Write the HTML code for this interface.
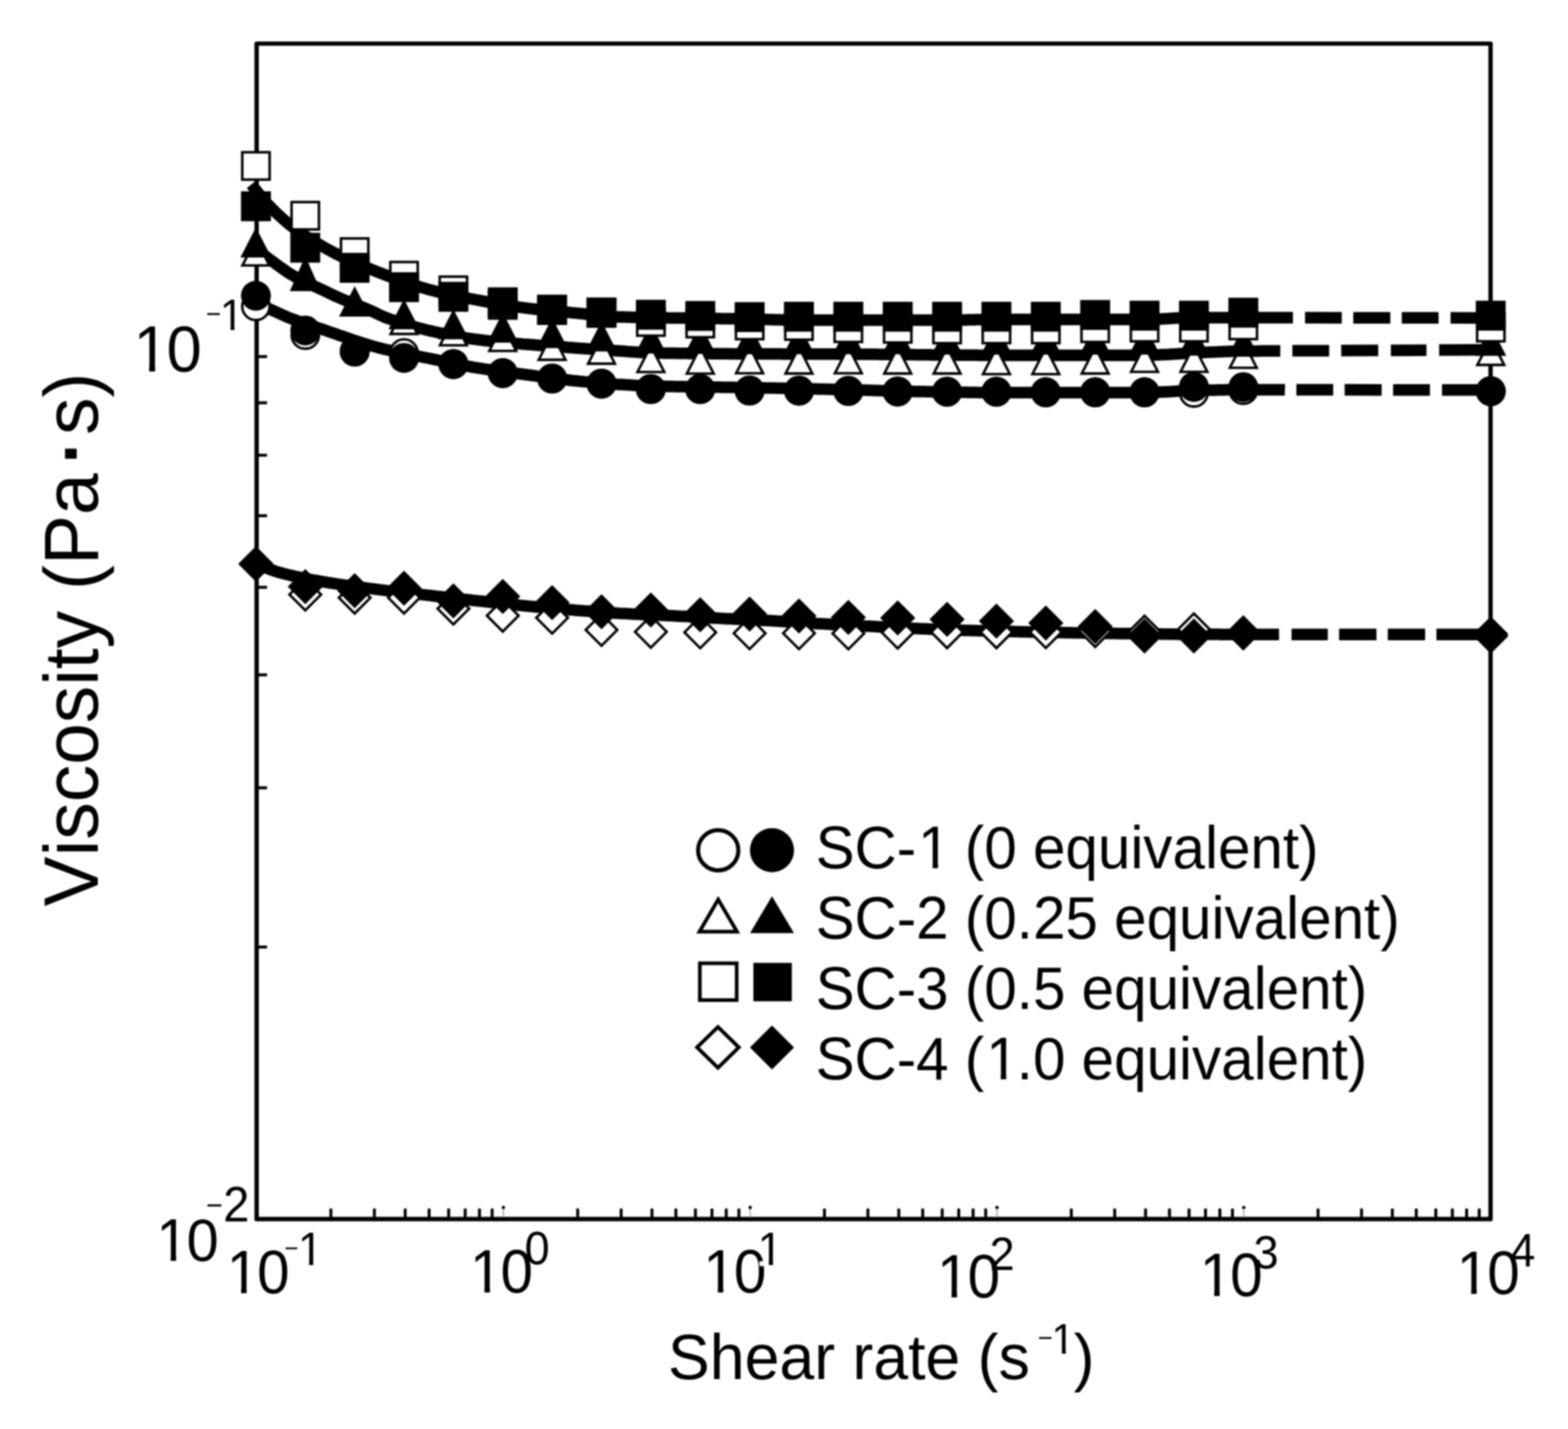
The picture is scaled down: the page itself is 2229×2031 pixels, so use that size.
<!DOCTYPE html>
<html lang="en"><head><meta charset="utf-8"><title>Viscosity vs shear rate</title>
<style>html,body{margin:0;padding:0;background:#fff}svg{display:block} text{font-family:"Liberation Sans", sans-serif;fill:#000;font-kerning:none}</style></head><body>
<svg width="2229" height="2031" viewBox="0 0 2229 2031">
<rect width="2229" height="2031" fill="#fff"/>
<defs><filter id="soft" x="0" y="0" width="100%" height="100%" filterUnits="objectBoundingBox" color-interpolation-filters="sRGB"><feGaussianBlur stdDeviation="0.8"/></filter></defs>
<g filter="url(#soft)">
<rect width="2229" height="2031" fill="#fff"/>
<rect x="364.8" y="62.0" width="1754.1" height="1670.7" fill="none" stroke="#000" stroke-width="6.2" stroke-linejoin="round"/>
<g stroke="#000" stroke-width="4.2" stroke-linecap="butt">
<line x1="364.8" y1="1346.0" x2="379.6" y2="1346.0"/>
<line x1="364.8" y1="1119.7" x2="379.6" y2="1119.7"/>
<line x1="364.8" y1="959.2" x2="379.6" y2="959.2"/>
<line x1="364.8" y1="834.7" x2="379.6" y2="834.7"/>
<line x1="364.8" y1="733.0" x2="379.6" y2="733.0"/>
<line x1="364.8" y1="647.0" x2="379.6" y2="647.0"/>
<line x1="364.8" y1="572.5" x2="379.6" y2="572.5"/>
<line x1="364.8" y1="506.8" x2="379.6" y2="506.8"/>
<line x1="364.8" y1="448.0" x2="379.6" y2="448.0"/>
<line x1="470.4" y1="1732.7" x2="470.4" y2="1717.7"/>
<line x1="532.2" y1="1732.7" x2="532.2" y2="1717.7"/>
<line x1="576.0" y1="1732.7" x2="576.0" y2="1717.7"/>
<line x1="610.0" y1="1732.7" x2="610.0" y2="1717.7"/>
<line x1="637.8" y1="1732.7" x2="637.8" y2="1717.7"/>
<line x1="661.3" y1="1732.7" x2="661.3" y2="1717.7"/>
<line x1="681.6" y1="1732.7" x2="681.6" y2="1717.7"/>
<line x1="699.6" y1="1732.7" x2="699.6" y2="1717.7"/>
<line x1="821.2" y1="1732.7" x2="821.2" y2="1717.7"/>
<line x1="883.0" y1="1732.7" x2="883.0" y2="1717.7"/>
<line x1="926.8" y1="1732.7" x2="926.8" y2="1717.7"/>
<line x1="960.8" y1="1732.7" x2="960.8" y2="1717.7"/>
<line x1="988.6" y1="1732.7" x2="988.6" y2="1717.7"/>
<line x1="1012.1" y1="1732.7" x2="1012.1" y2="1717.7"/>
<line x1="1032.4" y1="1732.7" x2="1032.4" y2="1717.7"/>
<line x1="1050.4" y1="1732.7" x2="1050.4" y2="1717.7"/>
<line x1="1172.0" y1="1732.7" x2="1172.0" y2="1717.7"/>
<line x1="1233.8" y1="1732.7" x2="1233.8" y2="1717.7"/>
<line x1="1277.7" y1="1732.7" x2="1277.7" y2="1717.7"/>
<line x1="1311.7" y1="1732.7" x2="1311.7" y2="1717.7"/>
<line x1="1339.4" y1="1732.7" x2="1339.4" y2="1717.7"/>
<line x1="1362.9" y1="1732.7" x2="1362.9" y2="1717.7"/>
<line x1="1383.3" y1="1732.7" x2="1383.3" y2="1717.7"/>
<line x1="1401.2" y1="1732.7" x2="1401.2" y2="1717.7"/>
<line x1="1522.9" y1="1732.7" x2="1522.9" y2="1717.7"/>
<line x1="1584.6" y1="1732.7" x2="1584.6" y2="1717.7"/>
<line x1="1628.5" y1="1732.7" x2="1628.5" y2="1717.7"/>
<line x1="1662.5" y1="1732.7" x2="1662.5" y2="1717.7"/>
<line x1="1690.3" y1="1732.7" x2="1690.3" y2="1717.7"/>
<line x1="1713.7" y1="1732.7" x2="1713.7" y2="1717.7"/>
<line x1="1734.1" y1="1732.7" x2="1734.1" y2="1717.7"/>
<line x1="1752.0" y1="1732.7" x2="1752.0" y2="1717.7"/>
<line x1="1873.7" y1="1732.7" x2="1873.7" y2="1717.7"/>
<line x1="1935.5" y1="1732.7" x2="1935.5" y2="1717.7"/>
<line x1="1979.3" y1="1732.7" x2="1979.3" y2="1717.7"/>
<line x1="2013.3" y1="1732.7" x2="2013.3" y2="1717.7"/>
<line x1="2041.1" y1="1732.7" x2="2041.1" y2="1717.7"/>
<line x1="2064.6" y1="1732.7" x2="2064.6" y2="1717.7"/>
<line x1="2084.9" y1="1732.7" x2="2084.9" y2="1717.7"/>
<line x1="2102.8" y1="1732.7" x2="2102.8" y2="1717.7"/>
</g>
<line x1="715.6" y1="1729.7" x2="715.6" y2="1717.7" stroke="#b0b0b0" stroke-width="2"/>
<circle cx="715.6" cy="1716.2" r="2.4" fill="#000"/>
<line x1="1066.4" y1="1729.7" x2="1066.4" y2="1717.7" stroke="#b0b0b0" stroke-width="2"/>
<circle cx="1066.4" cy="1716.2" r="2.4" fill="#000"/>
<line x1="1417.3" y1="1729.7" x2="1417.3" y2="1717.7" stroke="#b0b0b0" stroke-width="2"/>
<circle cx="1417.3" cy="1716.2" r="2.4" fill="#000"/>
<line x1="1768.1" y1="1729.7" x2="1768.1" y2="1717.7" stroke="#b0b0b0" stroke-width="2"/>
<circle cx="1768.1" cy="1716.2" r="2.4" fill="#000"/>
<g id="sc1"><path d="M363.0,430.0L366.9,431.8L370.7,433.5L374.6,435.3L378.4,437.1L382.3,438.8L386.1,440.6L390.0,442.3L393.8,444.0L397.6,445.7L401.4,447.5L405.1,449.1L408.9,450.8L412.7,452.3L416.6,453.8L420.6,455.3L424.5,456.7L428.5,458.1L432.4,459.5L436.4,460.8L440.3,462.1L444.2,463.4L448.2,464.7L452.1,466.0L456.1,467.4L460.0,468.7L463.9,470.0L467.8,471.4L471.8,472.8L475.7,474.1L479.6,475.5L483.5,476.9L487.4,478.2L491.4,479.6L495.3,480.9L499.2,482.3L503.1,483.6L507.0,484.9L511.0,486.1L514.9,487.4L518.8,488.6L522.4,489.7L526.0,490.8L529.6,491.9L533.3,492.9L536.9,493.9L540.5,494.8L544.3,495.7L548.2,496.7L552.0,497.5L555.9,498.4L559.7,499.2L563.5,500.1L567.4,500.9L571.2,501.7L575.0,502.4L578.9,503.2L582.7,504.0L586.6,504.7L590.4,505.5L594.2,506.2L598.1,507.0L601.9,507.8L605.8,508.5L609.6,509.3L613.5,510.1L617.4,510.9L621.3,511.7L625.2,512.5L629.1,513.3L633.0,514.1L636.9,515.0L640.8,515.8L644.7,516.6L648.6,517.3L652.5,518.1L656.4,518.9L660.3,519.6L664.2,520.4L668.1,521.1L672.0,521.8L675.9,522.5L679.8,523.1L683.7,523.7L687.6,524.3L691.5,524.9L695.4,525.5L699.3,526.1L703.2,526.6L707.1,527.2L711.0,527.7L714.8,528.2L718.7,528.7L722.6,529.3L726.5,529.8L730.4,530.3L734.3,530.8L738.2,531.3L742.1,531.8L746.0,532.3L749.9,532.8L753.8,533.3L757.7,533.8L761.6,534.3L765.5,534.9L769.4,535.4L773.3,535.9L777.2,536.4L781.1,536.9L785.0,537.4L788.9,537.9L792.8,538.4L796.7,538.9L800.6,539.4L804.5,539.8L808.4,540.3L812.3,540.7L816.2,541.1L820.1,541.5L823.9,541.9L827.6,542.2L831.4,542.6L835.2,542.9L839.0,543.3L842.8,543.6L846.5,543.9L850.3,544.2L854.1,544.5L857.9,544.8L861.6,545.1L865.4,545.4L869.2,545.7L873.0,545.9L876.7,546.2L880.5,546.4L884.2,546.6L887.9,546.8L891.6,547.1L895.3,547.3L899.0,547.5L902.8,547.7L906.5,547.9L910.2,548.0L913.9,548.2L917.6,548.4L921.3,548.5L925.0,548.6L928.9,548.7L932.8,548.8L936.8,548.9L940.7,549.0L944.6,549.1L948.5,549.2L952.4,549.3L956.3,549.3L960.2,549.4L964.2,549.5L968.1,549.5L972.0,549.6L975.9,549.7L979.8,549.7L983.8,549.8L987.7,549.9L991.6,549.9L995.5,550.0L999.4,550.0L1003.3,550.1L1007.2,550.1L1011.2,550.2L1015.1,550.2L1019.0,550.3L1022.9,550.3L1026.8,550.4L1030.8,550.5L1034.7,550.5L1038.6,550.6L1042.5,550.6L1046.4,550.7L1050.3,550.7L1054.2,550.8L1058.2,550.9L1062.1,550.9L1066.0,551.0L1069.9,551.1L1073.8,551.1L1077.7,551.2L1081.6,551.3L1085.4,551.3L1089.3,551.4L1093.2,551.5L1097.1,551.6L1101.0,551.6L1104.9,551.7L1108.8,551.8L1112.7,551.8L1116.6,551.9L1120.4,552.0L1124.3,552.1L1128.2,552.1L1132.1,552.2L1136.0,552.3L1140.0,552.4L1143.9,552.5L1147.9,552.6L1151.8,552.6L1155.8,552.7L1159.8,552.8L1163.7,552.9L1167.7,553.0L1171.7,553.1L1175.6,553.2L1179.6,553.3L1183.5,553.4L1187.5,553.5L1191.5,553.6L1195.4,553.7L1199.4,553.8L1203.4,553.9L1207.3,554.0L1211.3,554.1L1215.2,554.2L1219.2,554.3L1223.2,554.4L1227.1,554.5L1231.1,554.6L1235.1,554.7L1239.0,554.8L1243.0,555.0L1246.9,555.1L1250.9,555.2L1254.9,555.3L1258.8,555.4L1262.8,555.5L1266.8,555.6L1270.7,555.7L1274.7,555.8L1278.6,555.9L1282.6,556.0L1286.6,556.0L1290.5,556.1L1294.5,556.2L1298.5,556.3L1302.4,556.4L1306.4,556.5L1310.3,556.6L1314.3,556.6L1318.3,556.7L1322.2,556.8L1326.2,556.9L1330.2,556.9L1334.1,557.0L1338.1,557.1L1342.0,557.1L1346.0,557.2L1349.9,557.3L1353.8,557.3L1357.7,557.4L1361.6,557.4L1365.4,557.5L1369.3,557.6L1373.2,557.6L1377.1,557.7L1381.0,557.7L1384.9,557.8L1388.8,557.8L1392.7,557.9L1396.6,557.9L1400.4,557.9L1404.3,558.0L1408.2,558.0L1412.1,558.0L1416.0,558.0L1420.0,558.0L1423.9,558.0L1427.9,558.0L1431.8,558.0L1435.8,558.0L1439.8,558.0L1443.7,558.0L1447.7,558.0L1451.7,558.0L1455.6,558.0L1459.6,558.0L1463.5,558.0L1467.5,558.0L1471.5,558.0L1475.4,558.0L1479.4,558.0L1483.4,558.0L1487.3,558.0L1491.3,558.0L1495.2,558.0L1499.2,558.0L1503.2,558.0L1507.1,558.0L1511.1,558.0L1515.1,558.0L1519.0,558.0L1523.0,558.0L1526.9,558.0L1530.9,558.0L1534.9,558.0L1538.8,558.0L1542.8,558.0L1546.8,558.0L1550.7,558.0L1554.7,558.0L1558.6,558.0L1562.6,558.0L1566.6,558.0L1570.5,558.0L1574.5,558.0L1578.5,558.0L1582.4,558.0L1586.4,558.0L1590.3,558.0L1594.3,558.0L1598.3,558.0L1602.2,558.0L1606.2,558.0L1610.2,558.0L1614.1,558.0L1618.1,558.0L1622.0,558.0L1626.0,558.0L1629.9,558.0L1633.8,557.9L1637.7,557.8L1641.6,557.7L1645.4,557.5L1649.3,557.3L1653.2,557.1L1657.1,556.9L1661.0,556.7L1664.9,556.5L1668.8,556.2L1672.7,556.0L1676.6,555.8L1680.4,555.6L1684.3,555.4L1688.2,555.2L1692.1,555.1L1696.0,555.0L1699.9,554.9L1703.9,554.8L1707.8,554.8L1711.8,554.7L1715.7,554.6L1719.7,554.5L1723.6,554.4L1727.6,554.4L1731.5,554.3L1735.4,554.3L1739.4,554.2L1743.3,554.1L1747.3,554.1L1751.2,554.1L1755.2,554.0L1759.1,554.0L1763.1,554.0L1767.0,554.0L1771.0,554.0L1774.9,554.0L1778.9,554.0L1782.9,554.0L1786.9,554.0L1790.8,554.0L1794.8,554.0L1798.8,554.0L1802.8,554.0L1806.7,554.0L1810.7,554.0L1814.7,554.0L1818.7,554.0L1822.6,554.0L1826.6,554.1" fill="none" stroke="#000" stroke-width="16.5" stroke-linejoin="round"/>
<line x1="1842.9" y1="554.1" x2="1895.2" y2="554.1" stroke="#000" stroke-width="16.5"/>
<line x1="1911.5" y1="554.1" x2="1964.1" y2="554.2" stroke="#000" stroke-width="16.5"/>
<line x1="1980.4" y1="554.2" x2="2032.7" y2="554.2" stroke="#000" stroke-width="16.5"/>
<line x1="2049.9" y1="554.2" x2="2110.0" y2="554.3" stroke="#000" stroke-width="16.5"/>
<circle cx="363.8" cy="435.4" r="19.45" fill="#fff" stroke="#000" stroke-width="3.6"/>
<circle cx="434.0" cy="476.2" r="19.45" fill="#fff" stroke="#000" stroke-width="3.6"/>
<circle cx="504.2" cy="499.6" r="19.45" fill="#fff" stroke="#000" stroke-width="3.6"/>
<circle cx="574.3" cy="501.7" r="19.45" fill="#fff" stroke="#000" stroke-width="3.6"/>
<circle cx="644.5" cy="517.4" r="19.45" fill="#fff" stroke="#000" stroke-width="3.6"/>
<circle cx="714.7" cy="530.3" r="19.45" fill="#fff" stroke="#000" stroke-width="3.6"/>
<circle cx="784.9" cy="538.0" r="19.45" fill="#fff" stroke="#000" stroke-width="3.6"/>
<circle cx="855.1" cy="545.3" r="19.45" fill="#fff" stroke="#000" stroke-width="3.6"/>
<circle cx="925.2" cy="553.0" r="19.45" fill="#fff" stroke="#000" stroke-width="3.6"/>
<circle cx="995.4" cy="553.0" r="19.45" fill="#fff" stroke="#000" stroke-width="3.6"/>
<circle cx="1065.6" cy="555.1" r="19.45" fill="#fff" stroke="#000" stroke-width="3.6"/>
<circle cx="1135.8" cy="555.2" r="19.45" fill="#fff" stroke="#000" stroke-width="3.6"/>
<circle cx="1206.0" cy="555.6" r="19.45" fill="#fff" stroke="#000" stroke-width="3.6"/>
<circle cx="1276.1" cy="556.4" r="19.45" fill="#fff" stroke="#000" stroke-width="3.6"/>
<circle cx="1346.3" cy="556.8" r="19.45" fill="#fff" stroke="#000" stroke-width="3.6"/>
<circle cx="1416.5" cy="556.8" r="19.45" fill="#fff" stroke="#000" stroke-width="3.6"/>
<circle cx="1486.7" cy="557.6" r="19.45" fill="#fff" stroke="#000" stroke-width="3.6"/>
<circle cx="1556.9" cy="557.6" r="19.45" fill="#fff" stroke="#000" stroke-width="3.6"/>
<circle cx="1627.0" cy="557.6" r="19.45" fill="#fff" stroke="#000" stroke-width="3.6"/>
<circle cx="1697.2" cy="558.4" r="19.45" fill="#fff" stroke="#000" stroke-width="3.6"/>
<circle cx="1767.4" cy="554.4" r="19.45" fill="#fff" stroke="#000" stroke-width="3.6"/>
<circle cx="2119.2" cy="556.0" r="19.45" fill="#fff" stroke="#000" stroke-width="3.6"/>
<circle cx="363.8" cy="420.3" r="21.25" fill="#000"/>
<circle cx="434.0" cy="469.7" r="21.25" fill="#000"/>
<circle cx="504.2" cy="499.6" r="21.25" fill="#000"/>
<circle cx="574.3" cy="508.7" r="21.25" fill="#000"/>
<circle cx="644.5" cy="517.4" r="21.25" fill="#000"/>
<circle cx="714.7" cy="530.3" r="21.25" fill="#000"/>
<circle cx="784.9" cy="538.0" r="21.25" fill="#000"/>
<circle cx="855.1" cy="545.3" r="21.25" fill="#000"/>
<circle cx="925.2" cy="553.0" r="21.25" fill="#000"/>
<circle cx="995.4" cy="553.0" r="21.25" fill="#000"/>
<circle cx="1065.6" cy="555.1" r="21.25" fill="#000"/>
<circle cx="1135.8" cy="555.2" r="21.25" fill="#000"/>
<circle cx="1206.0" cy="555.6" r="21.25" fill="#000"/>
<circle cx="1276.1" cy="556.4" r="21.25" fill="#000"/>
<circle cx="1346.3" cy="556.8" r="21.25" fill="#000"/>
<circle cx="1416.5" cy="556.8" r="21.25" fill="#000"/>
<circle cx="1486.7" cy="557.6" r="21.25" fill="#000"/>
<circle cx="1556.9" cy="557.6" r="21.25" fill="#000"/>
<circle cx="1627.0" cy="557.6" r="21.25" fill="#000"/>
<circle cx="1697.2" cy="549.9" r="21.25" fill="#000"/>
<circle cx="1767.4" cy="550.2" r="21.25" fill="#000"/>
<circle cx="2119.2" cy="556.0" r="21.25" fill="#000"/></g>
<g id="sc2"><path d="M363.0,353.0L366.9,356.0L370.7,359.0L374.6,361.9L378.4,364.9L382.3,367.8L386.1,370.6L390.0,373.4L393.9,376.3L397.8,379.1L401.8,382.0L405.7,384.8L409.6,387.5L413.5,389.9L417.4,392.1L421.2,394.3L425.1,396.3L429.0,398.2L432.9,400.1L436.8,402.0L440.6,403.8L444.5,405.6L448.4,407.4L452.2,409.1L456.1,411.0L460.0,412.8L464.0,414.7L468.0,416.7L472.0,418.6L476.0,420.5L480.0,422.3L484.0,424.0L487.9,425.7L491.9,427.3L495.9,428.9L499.9,430.4L503.8,432.0L507.8,433.5L511.8,435.1L515.8,436.7L519.7,438.3L523.7,440.0L527.5,441.7L531.2,443.5L535.0,445.3L538.7,447.1L542.5,448.9L546.2,450.5L550.0,452.0L554.0,453.4L557.9,454.9L561.9,456.2L565.9,457.5L569.9,458.8L573.8,460.1L577.8,461.3L581.8,462.5L585.8,463.6L589.7,464.7L593.7,465.8L597.7,466.8L601.7,467.8L605.6,468.8L609.6,469.7L613.5,470.6L617.4,471.5L621.3,472.3L625.2,473.2L629.1,474.0L633.0,474.8L636.9,475.6L640.8,476.4L644.7,477.2L648.6,477.9L652.5,478.6L656.4,479.3L660.3,479.9L664.2,480.6L668.1,481.2L672.0,481.7L675.9,482.3L679.8,482.8L683.7,483.3L687.6,483.7L691.5,484.2L695.4,484.6L699.3,485.0L703.2,485.4L707.1,485.8L711.0,486.2L714.8,486.5L718.7,486.9L722.6,487.2L726.5,487.6L730.4,487.9L734.3,488.2L738.2,488.5L742.1,488.9L746.0,489.2L749.9,489.5L753.8,489.8L757.7,490.1L761.6,490.4L765.5,490.8L769.4,491.1L773.3,491.3L777.2,491.6L781.1,491.9L785.0,492.2L788.9,492.5L792.8,492.8L796.7,493.0L800.6,493.3L804.5,493.6L808.4,493.9L812.3,494.1L816.2,494.4L820.1,494.7L823.9,495.0L827.6,495.2L831.4,495.5L835.2,495.8L839.0,496.0L842.8,496.3L846.5,496.5L850.3,496.8L854.1,497.1L857.9,497.3L861.6,497.6L865.4,497.8L869.2,498.1L873.0,498.3L876.7,498.6L880.5,498.8L884.2,499.0L887.9,499.3L891.6,499.6L895.3,499.9L899.0,500.1L902.8,500.4L906.5,500.6L910.2,500.9L913.9,501.1L917.6,501.3L921.3,501.4L925.0,501.5L928.9,501.6L932.8,501.7L936.8,501.7L940.7,501.8L944.6,501.9L948.5,501.9L952.4,502.0L956.3,502.1L960.2,502.1L964.2,502.2L968.1,502.2L972.0,502.3L975.9,502.3L979.8,502.4L983.8,502.4L987.7,502.5L991.6,502.5L995.5,502.5L999.4,502.6L1003.3,502.6L1007.2,502.6L1011.2,502.7L1015.1,502.7L1019.0,502.7L1022.9,502.8L1026.8,502.8L1030.8,502.8L1034.7,502.8L1038.6,502.9L1042.5,502.9L1046.4,502.9L1050.3,502.9L1054.2,502.9L1058.2,503.0L1062.1,503.0L1066.0,503.0L1070.0,503.0L1074.0,503.0L1078.0,503.0L1082.0,503.1L1086.0,503.1L1090.0,503.1L1094.0,503.1L1098.0,503.1L1102.0,503.1L1106.0,503.1L1110.0,503.1L1114.0,503.2L1118.0,503.2L1122.0,503.2L1126.0,503.2L1130.0,503.2L1134.0,503.2L1138.0,503.2L1142.0,503.2L1146.0,503.2L1150.0,503.2L1154.0,503.2L1158.0,503.3L1162.0,503.3L1166.0,503.3L1170.0,503.3L1174.0,503.3L1178.0,503.3L1182.0,503.3L1186.0,503.3L1190.0,503.3L1194.0,503.4L1198.0,503.4L1202.0,503.4L1206.0,503.4L1210.0,503.4L1213.9,503.4L1217.9,503.5L1221.8,503.5L1225.8,503.5L1229.8,503.5L1233.7,503.6L1237.7,503.6L1241.7,503.6L1245.6,503.6L1249.6,503.7L1253.5,503.7L1257.5,503.7L1261.5,503.8L1265.4,503.8L1269.4,503.9L1273.4,503.9L1277.3,503.9L1281.3,504.0L1285.2,504.0L1289.2,504.0L1293.2,504.1L1297.1,504.1L1301.1,504.2L1305.1,504.2L1309.0,504.2L1313.0,504.3L1316.9,504.3L1320.9,504.3L1324.9,504.4L1328.8,504.4L1332.8,504.5L1336.8,504.5L1340.7,504.5L1344.7,504.6L1348.6,504.6L1352.6,504.6L1356.6,504.7L1360.5,504.7L1364.5,504.7L1368.5,504.7L1372.4,504.8L1376.4,504.8L1380.3,504.8L1384.3,504.8L1388.3,504.8L1392.2,504.9L1396.2,504.9L1400.2,504.9L1404.1,504.9L1408.1,504.9L1412.0,504.9L1416.0,504.9L1420.0,504.9L1423.9,504.9L1427.9,504.9L1431.8,504.9L1435.8,504.9L1439.8,504.9L1443.7,504.9L1447.7,504.9L1451.7,504.9L1455.6,504.9L1459.6,504.9L1463.5,504.9L1467.5,504.9L1471.5,504.9L1475.4,504.9L1479.4,504.9L1483.4,504.9L1487.3,504.9L1491.3,504.9L1495.2,504.9L1499.2,504.9L1503.2,504.9L1507.1,504.9L1511.1,504.9L1515.1,504.9L1519.0,504.9L1523.0,504.9L1526.9,504.9L1530.9,504.9L1534.9,504.9L1538.8,504.9L1542.8,504.9L1546.8,504.9L1550.7,504.9L1554.7,504.9L1558.6,504.9L1562.6,504.9L1566.6,504.9L1570.5,504.9L1574.5,504.9L1578.5,504.9L1582.4,504.9L1586.4,504.9L1590.3,504.9L1594.3,504.9L1598.3,504.9L1602.2,504.9L1606.2,504.9L1610.2,504.9L1614.1,504.9L1618.1,504.9L1622.0,504.9L1626.0,504.9L1629.9,504.9L1633.8,504.8L1637.7,504.7L1641.6,504.6L1645.4,504.5L1649.3,504.3L1653.2,504.1L1657.1,503.9L1661.0,503.7L1664.9,503.4L1668.8,503.2L1672.7,503.0L1676.6,502.7L1680.4,502.5L1684.3,502.3L1688.2,502.1L1692.1,501.9L1696.0,501.7L1699.9,501.5L1703.9,501.4L1707.8,501.2L1711.8,501.0L1715.7,500.8L1719.7,500.6L1723.6,500.4L1727.6,500.2L1731.5,500.1L1735.4,499.9L1739.4,499.7L1743.3,499.6L1747.3,499.4L1751.2,499.3L1755.2,499.2L1759.1,499.1L1763.1,499.0L1767.0,499.0L1770.8,499.0L1774.6,498.9L1778.4,498.9L1782.1,498.9L1785.9,498.9L1789.7,498.9L1793.5,498.8L1797.3,498.8L1801.1,498.8L1804.9,498.8L1808.6,498.8L1812.4,498.8L1816.2,498.7L1820.0,498.7" fill="none" stroke="#000" stroke-width="16.5" stroke-linejoin="round"/>
<line x1="1837.2" y1="498.6" x2="1889.5" y2="498.4" stroke="#000" stroke-width="16.5"/>
<line x1="1906.6" y1="498.3" x2="1959.2" y2="498.0" stroke="#000" stroke-width="16.5"/>
<line x1="1977.2" y1="497.9" x2="2027.8" y2="497.7" stroke="#000" stroke-width="16.5"/>
<line x1="2045.8" y1="497.6" x2="2110.0" y2="497.2" stroke="#000" stroke-width="16.5"/>
<polygon points="363.8,340.0 382.9,377.2 344.7,377.2" fill="#fff" stroke="#000" stroke-width="3.6" stroke-linejoin="miter"/>
<polygon points="504.2,411.0 523.2,448.2 485.1,448.2" fill="#000" stroke="#000" stroke-width="3.6" stroke-linejoin="miter"/>
<polygon points="574.3,437.4 593.4,474.6 555.3,474.6" fill="#fff" stroke="#000" stroke-width="3.6" stroke-linejoin="miter"/>
<polygon points="644.5,453.5 663.6,490.7 625.5,490.7" fill="#fff" stroke="#000" stroke-width="3.6" stroke-linejoin="miter"/>
<polygon points="714.7,461.5 733.8,498.7 695.6,498.7" fill="#fff" stroke="#000" stroke-width="3.6" stroke-linejoin="miter"/>
<polygon points="784.9,474.2 803.9,511.4 765.8,511.4" fill="#fff" stroke="#000" stroke-width="3.6" stroke-linejoin="miter"/>
<polygon points="855.1,479.7 874.1,516.9 836.0,516.9" fill="#fff" stroke="#000" stroke-width="3.6" stroke-linejoin="miter"/>
<polygon points="925.2,491.6 944.3,528.8 906.2,528.8" fill="#fff" stroke="#000" stroke-width="3.6" stroke-linejoin="miter"/>
<polygon points="995.4,493.8 1014.5,531.0 976.4,531.0" fill="#fff" stroke="#000" stroke-width="3.6" stroke-linejoin="miter"/>
<polygon points="1065.6,493.3 1084.7,530.5 1046.5,530.5" fill="#fff" stroke="#000" stroke-width="3.6" stroke-linejoin="miter"/>
<polygon points="1135.8,493.7 1154.8,530.9 1116.7,530.9" fill="#fff" stroke="#000" stroke-width="3.6" stroke-linejoin="miter"/>
<polygon points="1206.0,493.3 1225.0,530.5 1186.9,530.5" fill="#fff" stroke="#000" stroke-width="3.6" stroke-linejoin="miter"/>
<polygon points="1276.1,493.7 1295.2,530.9 1257.1,530.9" fill="#fff" stroke="#000" stroke-width="3.6" stroke-linejoin="miter"/>
<polygon points="1346.3,493.7 1365.4,530.9 1327.3,530.9" fill="#fff" stroke="#000" stroke-width="3.6" stroke-linejoin="miter"/>
<polygon points="1416.5,494.5 1435.6,531.7 1397.4,531.7" fill="#fff" stroke="#000" stroke-width="3.6" stroke-linejoin="miter"/>
<polygon points="1486.7,494.5 1505.7,531.7 1467.6,531.7" fill="#fff" stroke="#000" stroke-width="3.6" stroke-linejoin="miter"/>
<polygon points="1556.9,493.7 1575.9,530.9 1537.8,530.9" fill="#fff" stroke="#000" stroke-width="3.6" stroke-linejoin="miter"/>
<polygon points="1627.0,491.3 1646.1,528.5 1608.0,528.5" fill="#fff" stroke="#000" stroke-width="3.6" stroke-linejoin="miter"/>
<polygon points="1697.2,491.3 1716.3,528.5 1678.2,528.5" fill="#fff" stroke="#000" stroke-width="3.6" stroke-linejoin="miter"/>
<polygon points="1767.4,485.5 1786.5,522.7 1748.3,522.7" fill="#fff" stroke="#000" stroke-width="3.6" stroke-linejoin="miter"/>
<polygon points="2119.2,481.4 2138.3,518.6 2100.1,518.6" fill="#fff" stroke="#000" stroke-width="3.6" stroke-linejoin="miter"/>
<polygon points="363.8,322.9 385.8,365.9 341.8,365.9" fill="#000"/>
<polygon points="434.0,363.9 456.0,413.7 412.0,413.7" fill="#000"/>
<polygon points="504.2,407.0 526.2,450.0 482.2,450.0" fill="#000"/>
<polygon points="574.3,425.0 596.3,468.0 552.3,468.0" fill="#000"/>
<polygon points="644.5,439.2 666.5,482.2 622.5,482.2" fill="#000"/>
<polygon points="714.7,444.1 736.7,487.1 692.7,487.1" fill="#000"/>
<polygon points="784.9,451.7 806.9,494.7 762.9,494.7" fill="#000"/>
<polygon points="855.1,456.6 877.1,499.6 833.1,499.6" fill="#000"/>
<polygon points="925.2,459.5 947.2,502.5 903.2,502.5" fill="#000"/>
<polygon points="995.4,460.0 1017.4,503.0 973.4,503.0" fill="#000"/>
<polygon points="1065.6,460.4 1087.6,503.4 1043.6,503.4" fill="#000"/>
<polygon points="1135.8,460.4 1157.8,503.4 1113.8,503.4" fill="#000"/>
<polygon points="1206.0,460.4 1228.0,503.4 1184.0,503.4" fill="#000"/>
<polygon points="1276.1,460.4 1298.1,503.4 1254.1,503.4" fill="#000"/>
<polygon points="1346.3,461.0 1368.3,504.0 1324.3,504.0" fill="#000"/>
<polygon points="1416.5,461.0 1438.5,504.0 1394.5,504.0" fill="#000"/>
<polygon points="1486.7,461.0 1508.7,504.0 1464.7,504.0" fill="#000"/>
<polygon points="1556.9,461.0 1578.9,504.0 1534.9,504.0" fill="#000"/>
<polygon points="1627.0,461.0 1649.0,504.0 1605.0,504.0" fill="#000"/>
<polygon points="1697.2,462.5 1719.2,505.5 1675.2,505.5" fill="#000"/>
<polygon points="1767.4,464.0 1789.4,507.0 1745.4,507.0" fill="#000"/>
<polygon points="2119.2,462.8 2141.2,505.8 2097.2,505.8" fill="#000"/></g>
<g id="sc3"><path d="M357.4,262.1L360.5,266.1L363.7,270.2L366.9,274.2L370.0,278.0L373.6,282.3L377.2,286.4L380.8,290.4L384.4,294.2L388.0,297.8L391.6,301.4L395.2,304.9L398.9,308.2L402.5,311.5L406.1,314.6L409.7,317.6L413.3,320.5L417.1,323.4L420.9,326.2L424.7,328.9L428.5,331.5L432.3,334.1L436.2,336.6L440.0,339.0L443.8,341.4L447.6,343.7L451.4,346.0L455.2,348.3L458.7,350.4L462.3,352.4L465.8,354.4L469.4,356.3L472.9,358.2L476.5,360.0L480.0,361.8L484.0,363.7L487.9,365.6L491.9,367.5L495.8,369.3L499.8,371.1L503.8,372.9L507.7,374.6L511.7,376.3L515.6,378.0L519.6,379.6L523.6,381.2L527.5,382.8L531.5,384.4L535.4,386.0L539.4,387.5L543.3,389.0L547.2,390.5L551.1,392.0L555.0,393.4L558.9,394.9L562.8,396.3L566.7,397.8L570.6,399.2L574.5,400.5L578.4,401.9L582.3,403.2L586.2,404.5L590.1,405.8L594.0,407.0L597.9,408.2L601.8,409.3L605.7,410.4L609.6,411.5L613.5,412.5L617.4,413.5L621.3,414.5L625.2,415.4L629.1,416.3L633.0,417.2L636.9,418.1L640.8,419.0L644.7,419.8L648.6,420.6L652.5,421.4L656.4,422.2L660.3,423.0L664.2,423.7L668.1,424.5L672.0,425.2L675.9,426.0L679.8,426.7L683.7,427.4L687.6,428.1L691.5,428.9L695.4,429.6L699.3,430.3L703.2,430.9L707.1,431.6L711.0,432.3L714.8,432.9L718.7,433.6L722.6,434.2L726.5,434.8L730.4,435.4L734.3,436.0L738.2,436.6L742.1,437.1L746.0,437.6L749.9,438.1L753.8,438.6L757.7,439.0L761.6,439.5L765.5,439.9L769.4,440.3L773.3,440.7L777.2,441.1L781.1,441.5L785.0,441.8L788.9,442.2L792.8,442.6L796.7,442.9L800.6,443.3L804.5,443.6L808.4,444.0L812.3,444.4L816.2,444.7L820.1,445.1L823.8,445.5L827.6,445.9L831.3,446.3L835.1,446.7L838.8,447.1L842.5,447.5L846.3,447.9L850.0,448.3L853.8,448.7L857.5,449.1L861.2,449.4L865.0,449.7L868.7,449.9L872.5,450.1L876.2,450.3L880.0,450.4L883.7,450.5L887.5,450.6L891.2,450.7L895.0,450.8L898.7,450.9L902.5,451.0L906.2,451.1L910.0,451.1L913.7,451.2L917.5,451.3L921.2,451.3L925.0,451.4L928.9,451.5L932.8,451.5L936.8,451.6L940.7,451.7L944.6,451.7L948.5,451.8L952.4,451.9L956.3,451.9L960.2,452.0L964.2,452.0L968.1,452.1L972.0,452.1L975.9,452.2L979.8,452.3L983.8,452.3L987.7,452.4L991.6,452.4L995.5,452.5L999.4,452.5L1003.3,452.6L1007.2,452.6L1011.2,452.7L1015.1,452.7L1019.0,452.8L1022.9,452.8L1026.8,452.9L1030.8,452.9L1034.7,453.0L1038.6,453.1L1042.5,453.1L1046.4,453.2L1050.3,453.2L1054.2,453.3L1058.2,453.4L1062.1,453.4L1066.0,453.5L1069.9,453.6L1073.8,453.7L1077.7,453.8L1081.6,453.9L1085.4,454.0L1089.3,454.1L1093.2,454.2L1097.1,454.3L1101.0,454.4L1104.9,454.5L1108.8,454.6L1112.7,454.7L1116.6,454.8L1120.4,454.9L1124.3,454.9L1128.2,455.0L1132.1,455.0L1136.0,455.0L1140.0,455.0L1143.9,455.0L1147.9,455.0L1151.8,455.0L1155.8,455.0L1159.8,455.0L1163.7,455.0L1167.7,455.0L1171.7,455.0L1175.6,455.0L1179.6,455.0L1183.5,455.0L1187.5,455.0L1191.5,455.0L1195.4,455.0L1199.4,455.0L1203.4,455.0L1207.3,455.0L1211.3,455.0L1215.2,455.0L1219.2,455.0L1223.2,455.0L1227.1,455.0L1231.1,455.0L1235.1,455.0L1239.0,455.0L1243.0,455.0L1246.9,455.0L1250.9,455.0L1254.9,455.0L1258.8,455.0L1262.8,455.0L1266.8,455.0L1270.7,455.0L1274.7,455.0L1278.6,455.0L1282.6,455.0L1286.6,455.0L1290.5,455.0L1294.5,455.0L1298.5,455.0L1302.4,455.0L1306.4,455.0L1310.3,455.0L1314.3,455.0L1318.3,455.0L1322.2,455.0L1326.2,455.0L1330.2,455.0L1334.1,455.0L1338.1,455.0L1342.0,455.0L1346.0,455.0L1349.9,455.0L1353.8,455.0L1357.7,454.9L1361.6,454.9L1365.4,454.8L1369.3,454.7L1373.2,454.7L1377.1,454.6L1381.0,454.5L1384.9,454.4L1388.8,454.3L1392.7,454.3L1396.6,454.2L1400.4,454.1L1404.3,454.1L1408.2,454.0L1412.1,454.0L1416.0,454.0L1420.0,454.0L1423.9,454.0L1427.9,454.0L1431.8,454.0L1435.8,454.0L1439.8,454.0L1443.7,454.0L1447.7,454.0L1451.7,454.0L1455.6,454.0L1459.6,454.0L1463.5,454.0L1467.5,454.0L1471.5,454.0L1475.4,454.0L1479.4,454.0L1483.4,454.0L1487.3,454.0L1491.3,454.0L1495.2,454.0L1499.2,454.0L1503.2,454.0L1507.1,454.0L1511.1,454.0L1515.1,454.0L1519.0,454.0L1523.0,454.0L1526.9,454.0L1530.9,454.0L1534.9,454.0L1538.8,454.0L1542.8,454.0L1546.8,454.0L1550.7,454.0L1554.7,454.0L1558.6,454.0L1562.6,454.0L1566.6,454.0L1570.5,454.0L1574.5,454.0L1578.5,454.0L1582.4,454.0L1586.4,454.0L1590.3,454.0L1594.3,454.0L1598.3,454.0L1602.2,454.0L1606.2,454.0L1610.2,454.0L1614.1,454.0L1618.1,454.0L1622.0,454.0L1626.0,454.0L1629.9,454.0L1633.8,453.9L1637.7,453.8L1641.6,453.7L1645.4,453.5L1649.3,453.4L1653.2,453.2L1657.1,453.0L1661.0,452.8L1664.9,452.5L1668.8,452.3L1672.7,452.1L1676.6,452.0L1680.4,451.8L1684.3,451.7L1688.2,451.6L1692.1,451.5L1696.0,451.5L1699.9,451.5L1703.9,451.5L1707.8,451.5L1711.8,451.5L1715.7,451.5L1719.7,451.5L1723.6,451.5L1727.6,451.5L1731.5,451.5L1735.4,451.5L1739.4,451.5L1743.3,451.5L1747.3,451.5L1751.2,451.5L1755.2,451.5L1759.1,451.5L1763.1,451.5L1767.0,451.5L1770.9,451.5L1774.9,451.5L1778.8,451.5L1782.8,451.5L1786.7,451.5L1790.7,451.5L1794.6,451.5L1798.6,451.5L1802.5,451.5L1806.4,451.5L1810.4,451.5L1814.3,451.5L1818.3,451.6L1822.2,451.6L1826.2,451.6L1830.1,451.6L1834.1,451.6L1838.0,451.6" fill="none" stroke="#000" stroke-width="16.5" stroke-linejoin="round"/>
<line x1="1855.2" y1="451.6" x2="1907.4" y2="451.7" stroke="#000" stroke-width="16.5"/>
<line x1="1923.8" y1="451.7" x2="1976.4" y2="451.7" stroke="#000" stroke-width="16.5"/>
<line x1="1992.7" y1="451.8" x2="2045.0" y2="451.8" stroke="#000" stroke-width="16.5"/>
<line x1="2062.1" y1="451.8" x2="2110.0" y2="451.9" stroke="#000" stroke-width="16.5"/>
<rect x="344.4" y="216.4" width="38.9" height="38.9" fill="#fff" stroke="#000" stroke-width="3.6"/>
<rect x="414.5" y="287.2" width="38.9" height="38.9" fill="#fff" stroke="#000" stroke-width="3.6"/>
<rect x="484.7" y="338.9" width="38.9" height="38.9" fill="#fff" stroke="#000" stroke-width="3.6"/>
<rect x="554.9" y="372.4" width="38.9" height="38.9" fill="#fff" stroke="#000" stroke-width="3.6"/>
<rect x="625.1" y="393.2" width="38.9" height="38.9" fill="#fff" stroke="#000" stroke-width="3.6"/>
<rect x="695.2" y="413.8" width="38.9" height="38.9" fill="#fff" stroke="#000" stroke-width="3.6"/>
<rect x="765.4" y="420.6" width="38.9" height="38.9" fill="#fff" stroke="#000" stroke-width="3.6"/>
<rect x="835.6" y="424.6" width="38.9" height="38.9" fill="#fff" stroke="#000" stroke-width="3.6"/>
<rect x="905.8" y="438.2" width="38.9" height="38.9" fill="#fff" stroke="#000" stroke-width="3.6"/>
<rect x="976.0" y="440.4" width="38.9" height="38.9" fill="#fff" stroke="#000" stroke-width="3.6"/>
<rect x="1046.2" y="443.2" width="38.9" height="38.9" fill="#fff" stroke="#000" stroke-width="3.6"/>
<rect x="1116.3" y="443.9" width="38.9" height="38.9" fill="#fff" stroke="#000" stroke-width="3.6"/>
<rect x="1186.5" y="447.1" width="38.9" height="38.9" fill="#fff" stroke="#000" stroke-width="3.6"/>
<rect x="1256.7" y="447.9" width="38.9" height="38.9" fill="#fff" stroke="#000" stroke-width="3.6"/>
<rect x="1326.9" y="448.8" width="38.9" height="38.9" fill="#fff" stroke="#000" stroke-width="3.6"/>
<rect x="1397.0" y="448.8" width="38.9" height="38.9" fill="#fff" stroke="#000" stroke-width="3.6"/>
<rect x="1467.2" y="448.8" width="38.9" height="38.9" fill="#fff" stroke="#000" stroke-width="3.6"/>
<rect x="1537.4" y="447.1" width="38.9" height="38.9" fill="#fff" stroke="#000" stroke-width="3.6"/>
<rect x="1607.6" y="446.2" width="38.9" height="38.9" fill="#fff" stroke="#000" stroke-width="3.6"/>
<rect x="1677.8" y="446.2" width="38.9" height="38.9" fill="#fff" stroke="#000" stroke-width="3.6"/>
<rect x="1748.0" y="443.1" width="38.9" height="38.9" fill="#fff" stroke="#000" stroke-width="3.6"/>
<rect x="2099.8" y="446.2" width="38.9" height="38.9" fill="#fff" stroke="#000" stroke-width="3.6"/>
<rect x="342.6" y="271.9" width="42.5" height="42.5" fill="#000"/>
<rect x="412.7" y="330.8" width="42.5" height="42.5" fill="#000"/>
<rect x="482.9" y="359.4" width="42.5" height="42.5" fill="#000"/>
<rect x="553.1" y="386.9" width="42.5" height="42.5" fill="#000"/>
<rect x="623.3" y="400.6" width="42.5" height="42.5" fill="#000"/>
<rect x="693.5" y="408.4" width="42.5" height="42.5" fill="#000"/>
<rect x="763.6" y="419.4" width="42.5" height="42.5" fill="#000"/>
<rect x="833.8" y="423.4" width="42.5" height="42.5" fill="#000"/>
<rect x="904.0" y="426.1" width="42.5" height="42.5" fill="#000"/>
<rect x="974.2" y="427.8" width="42.5" height="42.5" fill="#000"/>
<rect x="1044.4" y="429.4" width="42.5" height="42.5" fill="#000"/>
<rect x="1114.5" y="428.9" width="42.5" height="42.5" fill="#000"/>
<rect x="1184.7" y="428.9" width="42.5" height="42.5" fill="#000"/>
<rect x="1254.9" y="428.9" width="42.5" height="42.5" fill="#000"/>
<rect x="1325.1" y="428.9" width="42.5" height="42.5" fill="#000"/>
<rect x="1395.2" y="428.9" width="42.5" height="42.5" fill="#000"/>
<rect x="1465.4" y="428.9" width="42.5" height="42.5" fill="#000"/>
<rect x="1535.6" y="426.4" width="42.5" height="42.5" fill="#000"/>
<rect x="1605.8" y="427.4" width="42.5" height="42.5" fill="#000"/>
<rect x="1676.0" y="427.4" width="42.5" height="42.5" fill="#000"/>
<rect x="1746.2" y="423.2" width="42.5" height="42.5" fill="#000"/>
<rect x="2097.9" y="427.4" width="42.5" height="42.5" fill="#000"/></g>
<g id="sc4"><path d="M363.0,801.5L366.6,802.8L370.3,804.2L373.9,805.5L377.6,806.9L381.2,808.3L384.9,809.6L388.6,810.9L392.2,812.1L395.9,813.3L399.5,814.3L403.4,815.3L407.3,816.3L411.2,817.2L415.1,818.1L418.9,819.0L422.8,819.9L426.7,820.7L430.6,821.5L434.5,822.3L438.4,823.0L442.3,823.8L446.2,824.5L450.1,825.2L453.9,825.9L457.8,826.5L461.7,827.2L465.6,827.9L469.5,828.5L473.4,829.1L477.3,829.7L481.1,830.3L485.0,830.9L488.9,831.5L492.8,832.0L496.7,832.6L500.6,833.1L504.4,833.6L508.3,834.2L512.2,834.7L516.1,835.2L520.0,835.7L523.9,836.2L527.8,836.6L531.6,837.1L535.5,837.6L539.4,838.1L543.4,838.6L547.3,839.1L551.3,839.6L555.3,840.0L559.2,840.5L563.2,840.9L567.2,841.4L571.1,841.9L575.1,842.3L579.1,842.7L583.0,843.2L587.0,843.6L591.0,844.1L594.9,844.5L598.9,845.0L602.9,845.4L606.8,845.9L610.8,846.3L614.6,846.7L618.4,847.2L622.2,847.6L626.1,848.0L629.9,848.5L633.7,848.9L637.5,849.3L641.3,849.8L645.1,850.2L649.0,850.6L652.8,851.0L656.6,851.5L660.4,851.9L664.2,852.3L668.0,852.7L671.9,853.2L675.7,853.6L679.5,854.0L683.4,854.4L687.3,854.8L691.2,855.3L695.1,855.7L698.9,856.1L702.8,856.6L706.7,857.0L710.6,857.4L714.5,857.8L718.4,858.2L722.3,858.7L726.2,859.1L730.1,859.5L733.9,859.9L737.8,860.3L741.7,860.6L745.6,861.0L749.5,861.4L753.4,861.8L757.3,862.1L761.1,862.5L765.0,862.8L768.9,863.2L772.8,863.5L776.7,863.9L780.6,864.2L784.5,864.6L788.3,864.9L792.2,865.2L796.1,865.5L800.0,865.9L803.9,866.2L807.8,866.5L811.6,866.8L815.5,867.1L819.4,867.4L823.2,867.7L827.0,868.0L830.8,868.3L834.6,868.5L838.4,868.8L842.2,869.1L846.0,869.4L849.8,869.7L853.6,869.9L857.5,870.2L861.3,870.5L865.1,870.7L868.9,871.0L872.7,871.2L876.5,871.4L880.3,871.7L884.1,871.9L887.9,872.1L891.7,872.3L895.6,872.5L899.4,872.7L903.3,872.9L907.1,873.1L911.0,873.3L914.8,873.4L918.7,873.6L922.5,873.8L926.4,873.9L930.2,874.1L934.1,874.3L937.9,874.4L941.8,874.6L945.6,874.8L949.5,875.0L953.3,875.1L957.2,875.3L961.0,875.5L964.8,875.7L968.7,875.9L972.5,876.1L976.4,876.3L980.2,876.5L984.1,876.7L987.9,876.9L991.8,877.1L995.6,877.3L999.4,877.6L1003.3,877.8L1007.1,878.0L1011.0,878.2L1014.8,878.4L1018.7,878.6L1022.5,878.8L1026.4,879.0L1030.2,879.2L1034.1,879.4L1038.1,879.6L1042.0,879.8L1045.9,879.9L1049.8,880.1L1053.8,880.3L1057.7,880.5L1061.6,880.6L1065.6,880.8L1069.5,881.0L1073.4,881.2L1077.3,881.4L1081.3,881.5L1085.2,881.7L1089.1,881.9L1093.0,882.1L1097.0,882.3L1100.9,882.5L1104.8,882.7L1108.8,882.9L1112.7,883.2L1116.7,883.4L1120.6,883.7L1124.5,883.9L1128.5,884.2L1132.4,884.4L1136.4,884.7L1140.3,884.9L1144.3,885.2L1148.2,885.4L1152.1,885.7L1156.1,885.9L1160.0,886.2L1164.0,886.4L1167.9,886.6L1171.9,886.8L1175.9,887.0L1179.9,887.2L1183.8,887.4L1187.8,887.7L1191.8,887.9L1195.8,888.1L1199.8,888.3L1203.8,888.5L1207.7,888.7L1211.7,888.9L1215.7,889.1L1219.7,889.3L1223.7,889.5L1227.7,889.7L1231.6,889.9L1235.6,890.1L1239.6,890.3L1243.6,890.5L1247.6,890.7L1251.5,890.9L1255.5,891.1L1259.5,891.3L1263.5,891.5L1267.5,891.7L1271.5,891.9L1275.5,892.1L1279.4,892.3L1283.4,892.5L1287.4,892.6L1291.4,892.8L1295.4,893.0L1299.4,893.2L1303.3,893.3L1307.3,893.5L1311.3,893.7L1315.3,893.8L1319.3,894.0L1323.2,894.2L1327.2,894.3L1331.2,894.5L1335.2,894.6L1339.2,894.8L1343.2,894.9L1347.2,895.1L1351.1,895.2L1355.1,895.3L1359.1,895.5L1363.1,895.6L1367.1,895.7L1371.0,895.9L1375.0,896.0L1379.0,896.1L1383.0,896.2L1387.0,896.3L1391.0,896.4L1394.9,896.5L1398.9,896.6L1402.9,896.7L1406.9,896.8L1410.9,896.9L1414.9,897.0L1418.8,897.1L1422.8,897.2L1426.8,897.3L1430.8,897.4L1434.8,897.5L1438.8,897.6L1442.7,897.7L1446.7,897.8L1450.7,897.9L1454.7,898.0L1458.7,898.1L1462.6,898.2L1466.6,898.2L1470.6,898.3L1474.6,898.4L1478.6,898.5L1482.6,898.6L1486.5,898.7L1490.5,898.7L1494.5,898.8L1498.5,898.9L1502.5,899.0L1506.4,899.0L1510.4,899.1L1514.4,899.2L1518.4,899.3L1522.4,899.3L1526.4,899.4L1530.3,899.5L1534.3,899.5L1538.3,899.6L1542.3,899.7L1546.3,899.7L1550.2,899.8L1554.2,899.9L1558.2,899.9L1562.2,900.0L1566.2,900.0L1570.2,900.1L1574.1,900.2L1578.1,900.2L1582.1,900.3L1586.1,900.3L1590.1,900.4L1594.1,900.4L1598.0,900.5L1602.0,900.5L1606.0,900.6L1609.9,900.6L1613.8,900.7L1617.7,900.7L1621.7,900.8L1625.6,900.8L1629.5,900.9L1633.4,900.9L1637.3,901.0L1641.2,901.0L1645.1,901.1L1649.0,901.1L1653.0,901.2L1656.9,901.2L1660.8,901.2L1664.7,901.3L1668.6,901.3L1672.5,901.4L1676.4,901.4L1680.3,901.4L1684.3,901.4L1688.2,901.5L1692.1,901.5L1696.0,901.5L1699.9,901.5L1703.9,901.5L1707.8,901.6L1711.8,901.6L1715.7,901.6L1719.7,901.6L1723.6,901.6L1727.6,901.6L1731.5,901.6L1735.4,901.7L1739.4,901.7L1743.3,901.7L1747.3,901.7L1751.2,901.7L1755.2,901.7L1759.1,901.7L1763.1,901.7L1767.0,901.7L1770.9,901.7L1774.9,901.7L1778.8,901.7L1782.8,901.7L1786.7,901.7L1790.6,901.7L1794.6,901.7L1798.5,901.7L1802.4,901.7L1806.4,901.7L1810.3,901.7L1814.3,901.7L1818.2,901.7" fill="none" stroke="#000" stroke-width="16.5" stroke-linejoin="round"/>
<line x1="1836.0" y1="901.7" x2="1887.5" y2="901.7" stroke="#000" stroke-width="16.5"/>
<line x1="1903.6" y1="901.7" x2="1956.7" y2="901.7" stroke="#000" stroke-width="16.5"/>
<line x1="1972.8" y1="901.7" x2="2025.9" y2="901.7" stroke="#000" stroke-width="16.5"/>
<line x1="2042.0" y1="901.7" x2="2110.0" y2="901.7" stroke="#000" stroke-width="16.5"/>
<polygon points="363.8,779.0 386.3,801.5 363.8,824.0 341.3,801.5" fill="#fff" stroke="#000" stroke-width="3.6" stroke-linejoin="miter"/>
<polygon points="434.0,822.5 456.4,845.0 434.0,867.5 411.5,845.0" fill="#fff" stroke="#000" stroke-width="3.6" stroke-linejoin="miter"/>
<polygon points="504.2,827.0 526.6,849.5 504.2,872.0 481.7,849.5" fill="#fff" stroke="#000" stroke-width="3.6" stroke-linejoin="miter"/>
<polygon points="574.3,827.0 596.8,849.5 574.3,872.0 551.9,849.5" fill="#fff" stroke="#000" stroke-width="3.6" stroke-linejoin="miter"/>
<polygon points="644.5,842.5 667.0,865.0 644.5,887.5 622.1,865.0" fill="#fff" stroke="#000" stroke-width="3.6" stroke-linejoin="miter"/>
<polygon points="714.7,852.6 737.2,875.1 714.7,897.6 692.2,875.1" fill="#fff" stroke="#000" stroke-width="3.6" stroke-linejoin="miter"/>
<polygon points="784.9,855.4 807.3,877.9 784.9,900.4 762.4,877.9" fill="#fff" stroke="#000" stroke-width="3.6" stroke-linejoin="miter"/>
<polygon points="855.1,872.8 877.5,895.3 855.1,917.8 832.6,895.3" fill="#fff" stroke="#000" stroke-width="3.6" stroke-linejoin="miter"/>
<polygon points="925.2,875.5 947.7,898.0 925.2,920.5 902.8,898.0" fill="#fff" stroke="#000" stroke-width="3.6" stroke-linejoin="miter"/>
<polygon points="995.4,876.2 1017.9,898.7 995.4,921.2 973.0,898.7" fill="#fff" stroke="#000" stroke-width="3.6" stroke-linejoin="miter"/>
<polygon points="1065.6,877.5 1088.1,900.0 1065.6,922.5 1043.1,900.0" fill="#fff" stroke="#000" stroke-width="3.6" stroke-linejoin="miter"/>
<polygon points="1135.8,877.5 1158.2,900.0 1135.8,922.5 1113.3,900.0" fill="#fff" stroke="#000" stroke-width="3.6" stroke-linejoin="miter"/>
<polygon points="1206.0,877.7 1228.4,900.2 1206.0,922.7 1183.5,900.2" fill="#fff" stroke="#000" stroke-width="3.6" stroke-linejoin="miter"/>
<polygon points="1276.1,876.6 1298.6,899.1 1276.1,921.6 1253.7,899.1" fill="#fff" stroke="#000" stroke-width="3.6" stroke-linejoin="miter"/>
<polygon points="1346.3,876.1 1368.8,898.6 1346.3,921.1 1323.9,898.6" fill="#fff" stroke="#000" stroke-width="3.6" stroke-linejoin="miter"/>
<polygon points="1416.5,876.1 1439.0,898.6 1416.5,921.1 1394.0,898.6" fill="#fff" stroke="#000" stroke-width="3.6" stroke-linejoin="miter"/>
<polygon points="1486.7,876.0 1509.1,898.5 1486.7,921.0 1464.2,898.5" fill="#fff" stroke="#000" stroke-width="3.6" stroke-linejoin="miter"/>
<polygon points="1556.9,874.5 1579.3,897.0 1556.9,919.5 1534.4,897.0" fill="#fff" stroke="#000" stroke-width="3.6" stroke-linejoin="miter"/>
<polygon points="1627.0,875.3 1649.5,897.8 1627.0,920.3 1604.6,897.8" fill="#fff" stroke="#000" stroke-width="3.6" stroke-linejoin="miter"/>
<polygon points="1697.2,872.1 1719.7,894.6 1697.2,917.1 1674.8,894.6" fill="#fff" stroke="#000" stroke-width="3.6" stroke-linejoin="miter"/>
<polygon points="1767.4,877.1 1789.9,899.6 1767.4,922.1 1744.9,899.6" fill="#fff" stroke="#000" stroke-width="3.6" stroke-linejoin="miter"/>
<polygon points="2119.2,881.4 2141.7,903.9 2119.2,926.4 2096.7,903.9" fill="#fff" stroke="#000" stroke-width="3.6" stroke-linejoin="miter"/>
<polygon points="363.8,776.5 388.8,801.5 363.8,826.5 338.8,801.5" fill="#000"/>
<polygon points="434.0,808.8 459.0,833.8 434.0,858.8 409.0,833.8" fill="#000"/>
<polygon points="504.2,814.4 529.2,839.4 504.2,864.4 479.2,839.4" fill="#000"/>
<polygon points="574.3,811.0 599.3,836.0 574.3,861.0 549.3,836.0" fill="#000"/>
<polygon points="644.5,829.0 669.5,854.0 644.5,879.0 619.5,854.0" fill="#000"/>
<polygon points="714.7,822.7 739.7,847.7 714.7,872.7 689.7,847.7" fill="#000"/>
<polygon points="784.9,831.4 809.9,856.4 784.9,881.4 759.9,856.4" fill="#000"/>
<polygon points="855.1,844.4 880.1,869.4 855.1,894.4 830.1,869.4" fill="#000"/>
<polygon points="925.2,842.1 950.2,867.1 925.2,892.1 900.2,867.1" fill="#000"/>
<polygon points="995.4,848.8 1020.4,873.8 995.4,898.8 970.4,873.8" fill="#000"/>
<polygon points="1065.6,847.7 1090.6,872.7 1065.6,897.7 1040.6,872.7" fill="#000"/>
<polygon points="1135.8,850.4 1160.8,875.4 1135.8,900.4 1110.8,875.4" fill="#000"/>
<polygon points="1206.0,852.6 1231.0,877.6 1206.0,902.6 1181.0,877.6" fill="#000"/>
<polygon points="1276.1,853.3 1301.1,878.3 1276.1,903.3 1251.1,878.3" fill="#000"/>
<polygon points="1346.3,855.3 1371.3,880.3 1346.3,905.3 1321.3,880.3" fill="#000"/>
<polygon points="1416.5,857.8 1441.5,882.8 1416.5,907.8 1391.5,882.8" fill="#000"/>
<polygon points="1486.7,860.4 1511.7,885.4 1486.7,910.4 1461.7,885.4" fill="#000"/>
<polygon points="1556.9,865.4 1581.9,890.4 1556.9,915.4 1531.9,890.4" fill="#000"/>
<polygon points="1627.0,878.9 1652.0,903.9 1627.0,928.9 1602.0,903.9" fill="#000"/>
<polygon points="1697.2,878.9 1722.2,903.9 1697.2,928.9 1672.2,903.9" fill="#000"/>
<polygon points="1767.4,874.6 1792.4,899.6 1767.4,924.6 1742.4,899.6" fill="#000"/>
<polygon points="2119.2,876.0 2144.2,901.0 2119.2,926.0 2094.2,901.0" fill="#000"/></g>
<g id="legend">
<circle cx="1021.0" cy="1208.4" r="28.60" fill="#fff" stroke="#000" stroke-width="5.8"/>
<circle cx="1097.4" cy="1208.4" r="31.35" fill="#000"/>
<polygon points="1021.0,1278.5 1047.7,1324.2 994.3,1324.2" fill="#fff" stroke="#000" stroke-width="5.2" stroke-linejoin="miter"/>
<polygon points="1097.4,1273.7 1128.7,1326.2 1066.2,1326.2" fill="#000"/>
<rect x="994.9" y="1369.1" width="52.3" height="52.3" fill="#fff" stroke="#000" stroke-width="5.2"/>
<rect x="1071.0" y="1368.5" width="54.6" height="54.6" fill="#000"/>
<polygon points="1020.6,1459.6 1050.3,1488.6 1020.6,1517.6 990.9,1488.6" fill="#fff" stroke="#000" stroke-width="5.2" stroke-linejoin="miter"/>
<polygon points="1097.4,1457.5 1128.8,1488.8 1097.4,1520.1 1066.1,1488.8" fill="#000"/>
</g>
<clipPath id="c1" clipPathUnits="userSpaceOnUse"><path clip-rule="evenodd" d="M-4000,-4000H4000V4000H-4000ZM149.00,-7.14H166.35V1.66H149.00ZM174.11,-7.14H190.50V1.66H174.11Z"/></clipPath><text xml:space="preserve" transform="translate(1159.40,1234.10) scale(1,1.0300)" clip-path="url(#c1)"><tspan x="0.00" y="0.00" font-size="83">SC-</tspan><tspan x="145.68" y="0.00" font-size="83">1</tspan><tspan x="189.10" y="0.00" font-size="83"> (0 equivalent)</tspan></text>
<text xml:space="preserve" transform="translate(1159.40,1333.80) scale(1,1.0300)"><tspan x="0.00" y="0.00" font-size="83">SC-2 (0.25 equivalent)</tspan></text>
<text xml:space="preserve" transform="translate(1159.40,1434.10) scale(1,1.0300)"><tspan x="0.00" y="0.00" font-size="83">SC-3 (0.5 equivalent)</tspan></text>
<clipPath id="c2" clipPathUnits="userSpaceOnUse"><path clip-rule="evenodd" d="M-4000,-4000H4000V4000H-4000ZM245.86,-7.14H263.21V1.66H245.86ZM270.97,-7.14H287.36V1.66H270.97Z"/></clipPath><text xml:space="preserve" transform="translate(1159.40,1533.50) scale(1,1.0300)" clip-path="url(#c2)"><tspan x="0.00" y="0.00" font-size="83">SC-4 (</tspan><tspan x="242.54" y="0.00" font-size="83">1</tspan><tspan x="285.96" y="0.00" font-size="83">.0 equivalent)</tspan></text>
<clipPath id="c3" clipPathUnits="userSpaceOnUse"><path clip-rule="evenodd" d="M-4000,-4000H4000V4000H-4000ZM6.06,-7.14H23.41V1.66H6.06ZM31.17,-7.14H47.56V1.66H31.17ZM106.61,-43.29H119.99V-36.51H106.61ZM125.97,-43.29H138.61V-36.51H125.97Z"/></clipPath><text xml:space="preserve" transform="translate(319.40,1837.50) scale(1,1.0400)" clip-path="url(#c3)"><tspan x="2.74" y="0.00" font-size="83">1</tspan><tspan x="46.16" y="0.00" font-size="83">0</tspan><tspan x="84.91" y="-49.30" font-size="34.2">−</tspan><tspan x="104.05" y="-37.79" font-size="64">1</tspan></text>
<clipPath id="c4" clipPathUnits="userSpaceOnUse"><path clip-rule="evenodd" d="M-4000,-4000H4000V4000H-4000ZM6.06,-7.14H23.41V1.66H6.06ZM31.17,-7.14H47.56V1.66H31.17Z"/></clipPath><text xml:space="preserve" transform="translate(665.30,1836.90) scale(1,1.0400)" clip-path="url(#c4)"><tspan x="2.74" y="0.00" font-size="83">1</tspan><tspan x="46.16" y="0.00" font-size="83">0</tspan><tspan x="80.50" y="-38.17" font-size="64">0</tspan></text>
<clipPath id="c5" clipPathUnits="userSpaceOnUse"><path clip-rule="evenodd" d="M-4000,-4000H4000V4000H-4000ZM6.06,-7.14H23.41V1.66H6.06ZM31.17,-7.14H47.56V1.66H31.17ZM82.51,-42.72H95.89V-35.93H82.51ZM101.87,-42.72H114.51V-35.93H101.87Z"/></clipPath><text xml:space="preserve" transform="translate(997.00,1836.90) scale(1,1.0400)" clip-path="url(#c5)"><tspan x="2.74" y="0.00" font-size="83">1</tspan><tspan x="46.16" y="0.00" font-size="83">0</tspan><tspan x="79.95" y="-37.21" font-size="64">1</tspan></text>
<clipPath id="c6" clipPathUnits="userSpaceOnUse"><path clip-rule="evenodd" d="M-4000,-4000H4000V4000H-4000ZM6.06,-7.14H23.41V1.66H6.06ZM31.17,-7.14H47.56V1.66H31.17Z"/></clipPath><text xml:space="preserve" transform="translate(1329.30,1844.00) scale(1,1.0400)" clip-path="url(#c6)"><tspan x="2.74" y="0.00" font-size="83">1</tspan><tspan x="46.16" y="0.00" font-size="83">0</tspan><tspan x="77.58" y="-37.12" font-size="64">2</tspan></text>
<clipPath id="c7" clipPathUnits="userSpaceOnUse"><path clip-rule="evenodd" d="M-4000,-4000H4000V4000H-4000ZM6.06,-7.14H23.41V1.66H6.06ZM31.17,-7.14H47.56V1.66H31.17Z"/></clipPath><text xml:space="preserve" transform="translate(1702.70,1841.70) scale(1,1.0400)" clip-path="url(#c7)"><tspan x="2.74" y="0.00" font-size="83">1</tspan><tspan x="46.16" y="0.00" font-size="83">0</tspan><tspan x="79.26" y="-37.02" font-size="64">3</tspan></text>
<clipPath id="c8" clipPathUnits="userSpaceOnUse"><path clip-rule="evenodd" d="M-4000,-4000H4000V4000H-4000ZM6.06,-7.14H23.41V1.66H6.06ZM31.17,-7.14H47.56V1.66H31.17Z"/></clipPath><text xml:space="preserve" transform="translate(2068.00,1838.70) scale(1,1.0400)" clip-path="url(#c8)"><tspan x="2.74" y="0.00" font-size="83">1</tspan><tspan x="46.16" y="0.00" font-size="83">0</tspan><tspan x="79.03" y="-37.21" font-size="64">4</tspan></text>
<clipPath id="c9" clipPathUnits="userSpaceOnUse"><path clip-rule="evenodd" d="M-4000,-4000H4000V4000H-4000ZM6.57,-7.74H25.38V1.80H6.57ZM33.80,-7.74H51.57V1.80H33.80ZM128.51,-62.56H141.05V-56.20H128.51ZM146.66,-62.56H158.51V-56.20H146.66Z"/></clipPath><text xml:space="preserve" transform="translate(186.70,528.20) scale(1,1.0400)" clip-path="url(#c9)"><tspan x="2.97" y="0.00" font-size="90">1</tspan><tspan x="50.05" y="0.00" font-size="90">0</tspan><tspan x="105.99" y="-66.99" font-size="36.8">−</tspan><tspan x="126.11" y="-57.40" font-size="60">1</tspan></text>
<clipPath id="c10" clipPathUnits="userSpaceOnUse"><path clip-rule="evenodd" d="M-4000,-4000H4000V4000H-4000ZM5.99,-7.05H23.12V1.64H5.99ZM30.79,-7.05H46.99V1.64H30.79Z"/></clipPath><text xml:space="preserve" transform="translate(219.60,1792.10) scale(1,1.0400)" clip-path="url(#c10)"><tspan x="2.71" y="0.00" font-size="82">1</tspan><tspan x="45.60" y="0.00" font-size="82">0</tspan><tspan x="73.50" y="-62.88" font-size="40.5">−</tspan><tspan x="97.73" y="-54.33" font-size="67">2</tspan></text>
<clipPath id="c11" clipPathUnits="userSpaceOnUse"><path clip-rule="evenodd" d="M-4000,-4000H4000V4000H-4000ZM547.61,-39.78H559.94V-33.53H547.61ZM565.46,-39.78H577.11V-33.53H565.46Z"/></clipPath><text xml:space="preserve" transform="translate(949.60,1959.50) scale(1,1.0200)" clip-path="url(#c11)"><tspan x="0.00" y="0.00" font-size="89">Shear rate (s</tspan><tspan x="525.61" y="-44.96" font-size="36.4">−</tspan><tspan x="545.25" y="-34.71" font-size="59">1</tspan><tspan x="576.57" y="0.00" font-size="89">)</tspan></text>
<text xml:space="preserve" transform="translate(139.40,1288.27) rotate(-90) scale(1,1.0300)"><tspan x="0.00" y="0.00" font-size="106.5">Viscosity (Pa</tspan><tspan x="618.52" y="3.15" font-size="150">·</tspan><tspan x="669.91" y="0.00" font-size="106.5">s)</tspan></text>
</g>
</svg></body></html>
